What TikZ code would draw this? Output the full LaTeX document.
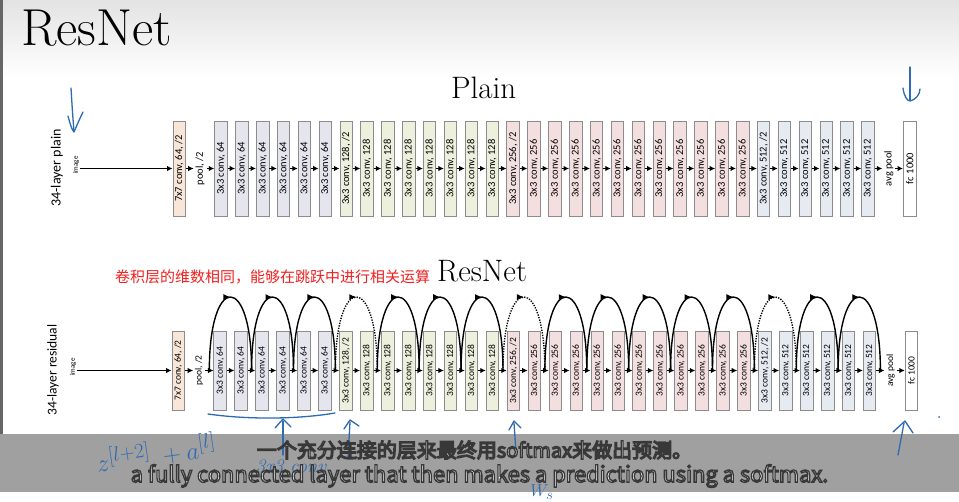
\documentclass[tikz,border=0pt]{standalone}
\usepackage{fontspec}
\newfontfamily\carl{Carlito}
\newfontfamily\cjk{Noto Sans CJK SC}
\usetikzlibrary{arrows.meta,decorations.markings,calc}
\definecolor{c7}{HTML}{F8E6D8}
\definecolor{c64}{HTML}{E5E5EE}
\definecolor{c128}{HTML}{ECF0DC}
\definecolor{c256}{HTML}{F3DFE0}
\definecolor{c512}{HTML}{E6EAF1}
\definecolor{bord}{HTML}{8C8C8C}
\definecolor{ink}{HTML}{2E6BB3}
\definecolor{bandc}{HTML}{A0A0A0}
\definecolor{redtxt}{HTML}{F02020}
\newcommand\laytext[1]{%
 \ifnum#1=0 7x7 conv, 64, /2\else
 \ifnum#1=1 pool, /2\else
 \ifnum#1<8 3x3 conv, 64\else
 \ifnum#1=8 3x3 conv, 128, /2\else
 \ifnum#1<16 3x3 conv, 128\else
 \ifnum#1=16 3x3 conv, 256, /2\else
 \ifnum#1<28 3x3 conv, 256\else
 \ifnum#1=28 3x3 conv, 512, /2\else
 \ifnum#1<34 3x3 conv, 512\else
 \ifnum#1=34 avg pool\else fc 1000\fi\fi\fi\fi\fi\fi\fi\fi\fi\fi}
\newcommand\laycol[1]{\ifnum#1=0 c7\else\ifnum#1<8 c64\else\ifnum#1<16 c128\else\ifnum#1<28 c256\else\ifnum#1<34 c512\else white\fi\fi\fi\fi\fi}
\newcommand\outl[1]{\special{pdf:literal direct 0.22 0.22 0.22 RG 1.3 w 2 Tr}#1\special{pdf:literal direct 0 Tr}}
\begin{document}
\begin{tikzpicture}[x=1pt,y=-1pt,
  layerbox/.style={draw=bord, line width=0.9pt, minimum width=12.5pt, inner sep=0pt},
  poolt/.style={draw=none, fill=none, minimum height=0pt, minimum width=0pt, inner sep=1.5pt},
  flow/.style={line width=1.1pt, -{Latex[length=5.5pt,width=5.5pt]}},
  skipsolid/.style={line width=1.4pt, postaction={decorate},
    decoration={markings, mark=at position 0.5 with {\arrow{Latex[length=7pt,width=6pt]}}}},
  skipdot/.style={line width=1.4pt, dash pattern=on 1.3pt off 1.3pt, postaction={decorate},
    decoration={markings, mark=at position 0.5 with {\arrow{Latex[length=7pt,width=6pt]}}}},
  inkline/.style={draw=ink, line width=1.3pt, line cap=round, line join=round},
  inktext/.style={text=ink, inner sep=0pt}
]
\useasboundingbox (0,0) rectangle (959,501);
% background
\fill[white] (0,0) rectangle (959,501);
\shade[top color=black!11, bottom color=white] (0,0) rectangle (959,78);
\fill[black!60] (0,0) rectangle (2.5,434);

% titles
\node[anchor=base west, inner sep=0pt, font=\fontsize{52}{52}\selectfont] (t1) at (21,45) {ResNet};
\node[anchor=base west, inner sep=0pt, font=\fontsize{31}{31}\selectfont] (t2) at (451,98) {Plain};
\node[anchor=base west, inner sep=0pt, font=\fontsize{31}{31}\selectfont] (t3) at (437,281) {ResNet};
\node[anchor=west, inner sep=0pt, text=redtxt, font=\cjk\fontsize{15}{15}\selectfont] (cn) at (115,277) {卷积层的维数相同，能够在跳跃中进行相关运算};

% row labels
\node[font=\carl\fontsize{14}{14}\selectfont, text=black] (lp) at (57,168) {\rotatebox{90}{34-layer plain}};
\node[font=\carl\fontsize{13.5}{14}\selectfont, text=black] (lr) at (53,370) {\rotatebox{90}{34-layer residual}};
\node[font=\carl\fontsize{7}{7}\selectfont, inner sep=0.5pt] (pimg) at (76,165) {\rotatebox{90}{image}};
\node[font=\carl\fontsize{7}{7}\selectfont, inner sep=0.5pt] (rimg) at (73,367) {\rotatebox{90}{image}};

% plain row
\foreach \i in {0,...,35}{
  \pgfmathsetmacro\xc{179.25+20.87*\i}
  \edef\cc{\laycol{\i}}
  \def\mystyle{layerbox}
  \ifnum\i=1 \def\mystyle{poolt}\fi
  \ifnum\i=34 \def\mystyle{poolt}\fi
  \node[layerbox, fill=\cc, minimum height=95pt, font=\carl\fontsize{10.5}{11}\selectfont, \mystyle] (p\i) at (\xc,168.5) {\rotatebox{90}{\laytext{\i}}};
}
\foreach \i [evaluate=\i as \j using int(\i+1)] in {0,...,34}{
  \draw[flow] (p\i.east) -- (p\j.west);
}
\draw[flow] (pimg.east |- p0.west) -- (p0.west);

% residual row
\foreach \i in {0,...,35}{
  \pgfmathsetmacro\xc{178.25+20.95*\i}
  \edef\cc{\laycol{\i}}
  \def\mystyle{layerbox}
  \ifnum\i=1 \def\mystyle{poolt}\fi
  \ifnum\i=34 \def\mystyle{poolt}\fi
  \node[layerbox, fill=\cc, minimum height=79pt, font=\carl\fontsize{9.5}{10}\selectfont, \mystyle] (r\i) at (\xc,370.5) {\rotatebox{90}{\laytext{\i}}};
}
\foreach \i [evaluate=\i as \j using int(\i+1)] in {0,...,34}{
  \draw[flow] (r\i.east) -- (r\j.west);
}
\draw[flow] (rimg.east |- r0.west) -- (r0.west);
\foreach \i [evaluate=\i as \k using int(\i-1)] in {2,...,34}{
  \coordinate (j\i) at ($(r\k.east)!0.5!(r\i.west)$);
}
\foreach \b in {0,...,15}{
  \pgfmathtruncatemacro\a{2+2*\b}
  \pgfmathtruncatemacro\c{4+2*\b}
  \def\sk{skipsolid}
  \ifnum\b=3 \def\sk{skipdot}\fi
  \ifnum\b=7 \def\sk{skipdot}\fi
  \ifnum\b=13 \def\sk{skipdot}\fi
  \draw[\sk] (j\a) .. controls +(0,-98) and +(0,-98) .. (j\c);
}

% subtitle band
\fill[bandc] (0,434) rectangle (959,492);

% handwriting
\draw[inkline] (71,88) .. controls (72,105) and (73,120) .. (74,131);
\draw[inkline] (68,116) .. controls (70,124) and (72,130) .. (74,132) .. controls (77,125) and (80,118) .. (83,112);
\draw[inkline] (910,67) -- (910,100);
\draw[inkline] (903,88) .. controls (904,96) and (907,101) .. (910,101) .. controls (915,100) and (920,95) .. (920,89);
\draw[inkline] (208,414) .. controls (250,420) and (300,419) .. (335,413);
\draw[inkline] (283,455) -- (283,421);
\draw[inkline] (275,428) -- (283,419) -- (291,427);
\draw[inkline] (348,458) -- (350,422);
\draw[inkline] (344,429) -- (350,420) -- (359,426);
\draw[inkline] (516,452) -- (514,423);
\draw[inkline] (509,430) -- (514,421) -- (521,428);
\draw[inkline] (898,455) -- (904,423);
\draw[inkline] (893,432) -- (905,421) -- (913,433);
\fill[ink] (939,417) circle (1pt);
\node[inktext, rotate=8, font=\fontsize{30}{30}\selectfont] (hz) at (156,453) {$z^{[l+2]}\;+a^{[l]}$};
\node[inktext, font=\itshape\fontsize{19}{19}\selectfont] (h3) at (291,466) {3x3 conv};
\node[inktext, font=\fontsize{19}{19}\selectfont] (hw) at (542,492) {$W_s$};

% subtitles
\node[text=white, font=\cjk\fontsize{20}{20}\selectfont, inner sep=0pt] (s1) at (474.5,450) {\outl{一个充分连接的层来最终用softmax来做出预测。}};
\node[text=white, font=\cjk\fontsize{21.9}{22}\selectfont, inner sep=0pt] (s2) at (479.5,476) {\outl{a fully connected layer that then makes a prediction using a softmax.}};
\end{tikzpicture}
\end{document}
